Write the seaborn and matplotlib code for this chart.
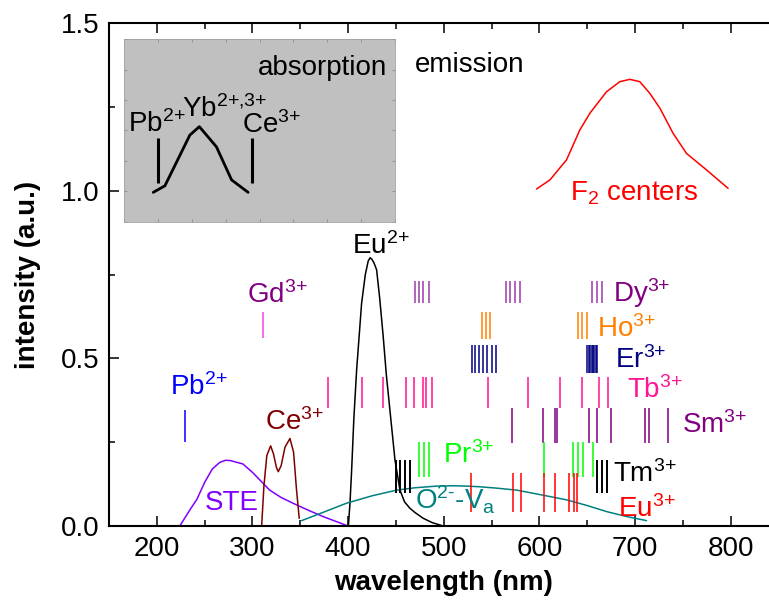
import numpy as np
import pandas as pd
import matplotlib
matplotlib.use("Agg")
import matplotlib.pyplot as plt
import seaborn as sns

# ---- continuous bands (wavelength in nm, intensity in a.u.) ----
ste_x = [224, 235, 242, 250, 258, 266, 272, 277, 290, 300, 318, 330, 346, 360, 374, 400]
ste_y = [0.0, 0.05, 0.08, 0.13, 0.17, 0.19, 0.196, 0.195, 0.185, 0.16, 0.107, 0.085, 0.063, 0.045, 0.028, 0.0]

ce_x = [309.6, 312, 315, 319, 322, 325, 327, 330, 334, 339.2, 343, 346, 348.9]
ce_y = [0.0, 0.12, 0.21, 0.239, 0.215, 0.175, 0.162, 0.18, 0.235, 0.261, 0.22, 0.11, 0.023]

eu2_x = [400.3, 402, 403.7, 406, 408.9, 414.1, 418, 421, 423, 425, 427, 429.8, 433, 436.7, 440, 443.7, 449, 454.2, 459, 464.6, 470, 478.5, 488, 499.4]
eu2_y = [0.0, 0.07, 0.167, 0.32, 0.465, 0.664, 0.75, 0.79, 0.80, 0.795, 0.785, 0.764, 0.68, 0.565, 0.45, 0.346, 0.197, 0.107, 0.072, 0.053, 0.04, 0.023, 0.01, 0.0]

ov_x = [351.4, 375, 398.4, 425, 450.7, 470, 492.5, 510, 523.9, 537.8, 555, 576.2, 600, 628.4, 650, 670.2, 690, 712]
ov_y = [0.016, 0.042, 0.068, 0.09, 0.107, 0.114, 0.119, 0.12, 0.119, 0.117, 0.113, 0.107, 0.094, 0.078, 0.061, 0.043, 0.029, 0.016]

f2_x = [597, 611, 628.4, 642.3, 652.8, 670.2, 684.1, 694.6, 705, 715.5, 726, 739.8, 753.8, 774.7, 797.3]
f2_y = [1.005, 1.032, 1.092, 1.181, 1.231, 1.295, 1.325, 1.332, 1.325, 1.29, 1.246, 1.171, 1.111, 1.062, 1.007]

# ---- sharp emission lines (positions in nm) ----
pb_lines = [229.4]
gd_lines = [311.3]
dy_lines = [469.9, 474.1, 478.5, 484.3, 564.6, 569.2, 574.4, 579.6, 654.5, 659.8, 665.0]
ho_lines = [539.6, 543.8, 548.2, 639.9, 644.1, 649.3]
er_lines = [529.1, 532.6, 536.8, 541.2, 545.4, 550.0, 554.5,
            650.0, 651.5, 653.0, 654.5, 656.0, 657.5, 659.0, 660.5]
tb_lines = [379.2, 414.8, 436.1, 460.4, 468.8, 478.5, 481.9, 487.3,
            545.8, 588.3, 621.4, 644.1, 662.5, 671.9]
sm_lines = [570.9, 603.9, 616.2, 618.6, 652.0, 660.4, 674.4, 710.3, 714.8, 734.6]
pr_lines = [474.3, 479.6, 484.8, 604.7, 634.7, 639.9, 645.1, 655.6]
tm_lines = [449.7, 454.2, 459.4, 464.6, 659.8, 665.0, 670.2]
eu3_lines = [528.1, 572.6, 580.3, 604.7, 616.2, 631.1, 636.4, 638.9]

# ---- absorption schematic (inset, normalised units) ----
abs_x = [0.108, 0.151, 0.243, 0.278, 0.341, 0.397, 0.458]
abs_y = [0.162, 0.198, 0.475, 0.521, 0.411, 0.230, 0.162]
abs_marks = [0.124, 0.471]

sns.set_theme(style="ticks")
plt.rcParams["font.family"] = ["Liberation Sans", "DejaVu Sans"]
plt.rcParams["mathtext.fontset"] = "custom"
plt.rcParams["mathtext.rm"] = "Liberation Sans"
plt.rcParams["mathtext.it"] = "Liberation Sans:italic"
plt.rcParams["mathtext.bf"] = "Liberation Sans:bold"
plt.rcParams["text.color"] = "black"
plt.rcParams["axes.labelcolor"] = "black"
plt.rcParams["xtick.color"] = "black"
plt.rcParams["ytick.color"] = "black"

FS = 20

fig = plt.figure(figsize=(7.69, 6.08), dpi=100)
ax = fig.add_axes([109 / 769, 1 - 526 / 608, (778.5 - 109) / 769, 503 / 608])

LW = 1.1


def band(xs, ys, color):
    df = pd.DataFrame({"wl": xs, "I": ys})
    sns.lineplot(data=df, x="wl", y="I", color=color, lw=LW, ax=ax,
                 estimator=None, sort=False)


band(ste_x, ste_y, "#8000ff")
band(ce_x, ce_y, "#800000")
band(eu2_x, eu2_y, "black")
band(ov_x, ov_y, "#008080")
band(f2_x, f2_y, "#ff0000")


def lines(pos, y0, y1, color, lw=1.1):
    ax.vlines(pos, y0, y1, colors=color, lw=lw)


lines(pb_lines, 0.250, 0.346, "#0000ff")
lines(gd_lines, 0.560, 0.637, "#ff40e0")
lines(dy_lines, 0.664, 0.731, "#9b3aa8")
lines(ho_lines, 0.558, 0.639, "#ff8000")
lines(er_lines, 0.455, 0.540, "#000080")
lines(tb_lines, 0.353, 0.445, "#ff1493")
lines(sm_lines, 0.247, 0.351, "#800080")
lines(pr_lines, 0.147, 0.251, "#00ff00")
lines(tm_lines, 0.098, 0.197, "black", lw=1.4)
lines(eu3_lines, 0.041, 0.157, "#ff0000")


def label(x, y, s, color):
    ax.text(x, y, s, color=color, fontsize=FS, ha="left", va="baseline")


label(213.8, 0.39, r"Pb$^{2{+}}$", "#0000ff")
label(293.9, 0.664, r"Gd$^{3{+}}$", "#800080")
label(313.1, 0.286, r"Ce$^{3{+}}$", "#800000")
label(250.3, 0.048, "STE", "#8000ff")
label(404.0, 0.811, r"Eu$^{2{+}}$", "black")
label(469.9, 0.048, r"O$^{2\text{-}}$-V$_{\mathrm{a}}$", "#008080")
label(499.5, 0.189, r"Pr$^{3{+}}$", "#00ff00")
label(677.1, 0.132, r"Tm$^{3{+}}$", "black")
label(682.4, 0.028, r"Eu$^{3{+}}$", "#ff0000")
label(677.1, 0.669, r"Dy$^{3{+}}$", "#800080")
label(659.8, 0.565, r"Ho$^{3{+}}$", "#ff8000")
label(678.9, 0.470, r"Er$^{3{+}}$", "#000080")
label(691.1, 0.381, r"Tb$^{3{+}}$", "#ff1493")
label(748.6, 0.276, r"Sm$^{3{+}}$", "#800080")
label(469.9, 1.355, "emission", "black")
label(631.9, 0.972, r"F$_{2}$ centers", "#ff0000")

ax.set_xlim(150, 850)
ax.set_ylim(0, 1.5)
ax.set_xticks([200, 300, 400, 500, 600, 700, 800])
ax.set_xticks(np.arange(150, 851, 50), minor=True)
ax.set_yticks([0.0, 0.5, 1.0, 1.5])
ax.set_yticks(np.arange(0, 1.51, 0.25), minor=True)
ax.set_yticklabels(["0.0", "0.5", "1.0", "1.5"])
ax.tick_params(which="both", direction="in", top=True, right=True,
               labelsize=FS, width=1.1, colors="black")
ax.tick_params(which="major", length=7, pad=7)
ax.tick_params(which="minor", length=4.5)
for sp in ax.spines.values():
    sp.set_visible(True)
    sp.set_linewidth(1.5)
    sp.set_color("black")
ax.set_xlabel("wavelength (nm)", fontsize=FS, fontweight="bold", labelpad=6)
ax.set_ylabel("intensity (a.u.)", fontsize=FS, fontweight="bold", labelpad=14)
ax.grid(False)

# absorption inset
ins = fig.add_axes([124 / 769, 1 - 222 / 608, 271 / 769, 183 / 608])
ins.set_facecolor("#c0c0c0")
sns.lineplot(x=abs_x, y=abs_y, color="black", lw=2.0, ax=ins,
             estimator=None, sort=False)
ins.vlines(abs_marks, 0.213, 0.459, colors="black", lw=2.2)
ins.set_xlim(0, 1)
ins.set_ylim(0, 1)
ins.set_xticks(np.linspace(0, 1, 9))
ins.set_yticks(np.linspace(0, 1, 7))
ins.tick_params(which="both", direction="in", top=True, right=True,
                length=2, width=0.5, colors="#808080",
                labelbottom=False, labelleft=False)
for sp in ins.spines.values():
    sp.set_linewidth(0.6)
    sp.set_color("#a0a0a0")
ins.text(0.970, 0.803, "absorption", fontsize=FS, ha="right", va="baseline",
         color="black", transform=ins.transAxes)
ins.text(0.016, 0.493, r"Pb$^{2{+}}$", fontsize=FS, ha="left", va="baseline",
         color="black", transform=ins.transAxes)
ins.text(0.213, 0.575, r"Yb$^{2{+}{,}3{+}}$", fontsize=FS, ha="left",
         va="baseline", color="black", transform=ins.transAxes)
ins.text(0.434, 0.485, r"Ce$^{3{+}}$", fontsize=FS, ha="left", va="baseline",
         color="black", transform=ins.transAxes)

fig.savefig("out.png", dpi=100)
